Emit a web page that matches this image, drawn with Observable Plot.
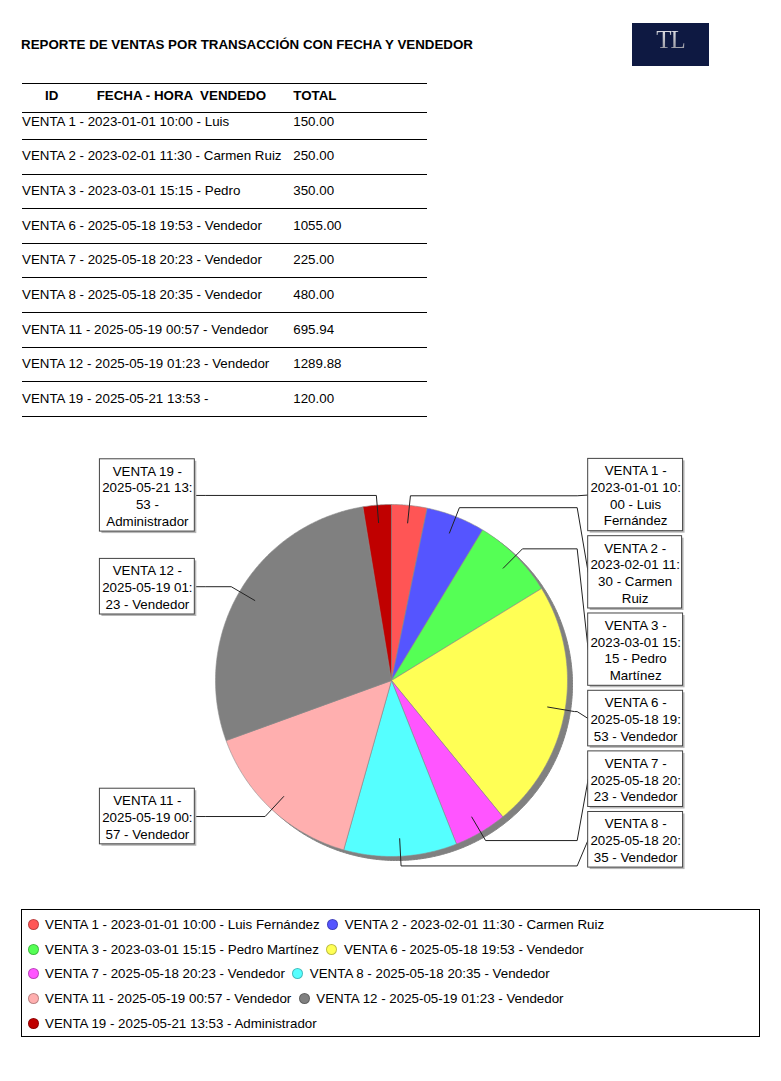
<!DOCTYPE html>
<html><head><meta charset="utf-8">
<script src="https://cdn.jsdelivr.net/npm/d3@7"></script>
<script src="https://cdn.jsdelivr.net/npm/@observablehq/plot@0.6"></script>
<style>
body{margin:0;background:#fff;font-family:"Liberation Sans",Arial,sans-serif;color:#000}
#page{position:relative;width:781px;height:1081px;overflow:hidden;background:#fff}
.abs{position:absolute}
#title{left:21px;top:37px;font-weight:bold;font-size:13.33px;line-height:16px;white-space:nowrap}
#logo{left:632px;top:23px;width:77px;height:43px;background:#0e1942;overflow:hidden}
#logo span{position:absolute;left:0;width:77px;text-align:center;top:4px;font-family:"Liberation Serif","DejaVu Serif",serif;font-size:25px;line-height:25px;letter-spacing:-1px;background:linear-gradient(#e8e8ee,#8f9099);-webkit-background-clip:text;background-clip:text;color:transparent}
.hline{position:absolute;left:22px;width:405px;height:0;border-top:1px solid #000}
.cell{position:absolute;font-size:13.33px;line-height:16px;white-space:pre}
.head{font-weight:bold}
#legend{left:21px;top:909px;width:739px;height:128px;border:1px solid #000;box-sizing:border-box;display:flex;flex-wrap:wrap;align-content:flex-start;padding:2px 0 0 5.5px;font-size:13.33px}
.item{display:flex;align-items:center;height:24.75px;margin-right:7.5px;white-space:nowrap}
.dot{width:11px;height:11px;border-radius:50%;margin-right:6.5px;box-sizing:border-box;border:0.5px solid rgba(0,0,0,0.25)}
#chart{left:0;top:430px}
</style></head>
<body><div id="page"></div>
<script>
// ---------- data ----------
const titulo = "REPORTE DE VENTAS POR TRANSACCIÓN CON FECHA Y VENDEDOR";
const logoTexto = "TL";
const encabezados = ["ID", "FECHA - HORA  VENDEDO", "TOTAL"];
const ids = ["VENTA 1","VENTA 2","VENTA 3","VENTA 6","VENTA 7","VENTA 8","VENTA 11","VENTA 12","VENTA 19"];
const fechas = ["2023-01-01 10:00","2023-02-01 11:30","2023-03-01 15:15","2025-05-18 19:53","2025-05-18 20:23","2025-05-18 20:35","2025-05-19 00:57","2025-05-19 01:23","2025-05-21 13:53"];
const vendedores = ["Luis Fernández","Carmen Ruiz","Pedro Martínez","Vendedor","Vendedor","Vendedor","Vendedor","Vendedor","Administrador"];
const totales = [150.00, 250.00, 350.00, 1055.00, 225.00, 480.00, 695.94, 1289.88, 120.00];
const colores = ["#ff5555","#5555ff","#55ff55","#ffff55","#ff55ff","#55ffff","#ffafaf","#808080","#c00000"];

// ---------- page ----------
const page = document.getElementById("page");
function el(tag, cls, css, text){const e=document.createElement(tag); if(cls) e.className=cls; if(css) Object.assign(e.style, css); if(text!=null) e.textContent=text; page.appendChild(e); return e;}
const t = el("div","abs",null,titulo); t.id="title";
const lg = el("div","abs"); lg.id="logo"; const ls=document.createElement("span"); ls.textContent=logoTexto; lg.appendChild(ls);

const etiquetas = ids.map((id,i)=>`${id} - ${fechas[i]} - ${vendedores[i]}`);

const FS = 13.33;
const ctx = document.createElement("canvas").getContext("2d");
ctx.font = `${FS}px "Liberation Sans", Arial, sans-serif`;
const mw = s => ctx.measureText(s.replace(/\u00a0/g," ")).width;

// first line of a cell that wraps at word boundaries (the rest is clipped in the report)
function firstLine(text, maxW){
  const words=text.split(" "); let line=words[0];
  for(let k=1;k<words.length;k++){const cand=line+" "+words[k]; if(mw(cand)>maxW) break; line=cand;}
  return line;
}

// table
const colX = [45, 96.7, 293.3];
el("div","hline",{top:"82.5px"});
el("div","hline",{top:"111.5px"});
encabezados.forEach((h,j)=>el("div","cell head",{left:colX[j]+"px",top:"88px"},h));
ids.forEach((id,i)=>{
  const cy = 121.5 + 34.7*i;
  el("div","cell",{left:"22px",top:(cy-8)+"px"},firstLine(etiquetas[i], 266));
  el("div","cell",{left:colX[2]+"px",top:(cy-8)+"px"},totales[i].toFixed(2));
  el("div","hline",{top:(139+34.6*i)+"px"});
});

// ---------- pie chart ----------
const W=781, H=470, CX=391, CY=250, R=176;
const LH = 16.7, PADH = 4.5, PADV = 5.5, GAP = 5, MAXW = 94;

function wrap(text){
  const tokens = text.match(/[^ ]+ */g);
  const breaks=[]; let pos=0; for(const tk of tokens){pos+=tk.length; breaks.push(pos);}
  const len=text.length, lines=[]; let start=0;
  while(start<len){
    let current=start, first=true, end=len;
    for(const b of breaks){
      if(b<=start) continue;
      if(mw(text.slice(start,b))>MAXW){
        if(first){ let e=b; while(e>start+1 && mw(text.slice(start,e))>MAXW) e--; end=e; }
        else end=current;
        break;
      }
      if(b===len){end=len; break;}
      first=false; current=b;
    }
    lines.push(text.slice(start,end).replace(/\u00a0/g," ").trim());
    start=end;
  }
  return lines;
}

const arcs = d3.pie().sort(null).value(d=>d)(totales);
const slicePts = [];
arcs.forEach((p,i)=>{
  const n = Math.max(2, Math.ceil((p.endAngle-p.startAngle)/(Math.PI/360)));
  slicePts.push({id:ids[i], x:0, y:0});
  for(let k=0;k<=n;k++){const a=p.startAngle+(p.endAngle-p.startAngle)*k/n; slicePts.push({id:ids[i], x:Math.sin(a), y:Math.cos(a)});}
  slicePts.push({id:ids[i], x:0, y:0});
});

// labels (pixel offsets from centre, y downward)
const labels = arcs.map((p,i)=>{
  const mid=(p.startAngle+p.endAngle)/2, s=Math.sin(mid), c=Math.cos(mid);
  const lines = wrap(`${ids[i]} - ${fechas[i].replace(" ","\u00a0")} - ${vendedores[i]}`);
  return {id:ids[i], lines, w:d3.max(lines,mw)+PADH, h:lines.length*LH+PADV, side:s>=0?1:-1,
    ax:0.9*R*s, ay:-0.9*R*c, lx:1.055*R*s, ly:-1.055*R*c};
});
const BOTTOM = 1.063*R;
for(const side of [1,-1]){
  const L = labels.filter(d=>d.side===side).sort((a,b)=>a.ly-b.ly);
  let prev=-Infinity;
  L.forEach(d=>{d.top=Math.max(d.ly-d.h/2, prev+GAP); prev=d.top+d.h;});
  let next=Infinity;
  for(let k=L.length-1;k>=0;k--){const d=L[k]; let bot=Math.min(d.top+d.h, BOTTOM, next-GAP); d.top=bot-d.h; next=d.top;}
}
const STEM = 1.055*R, BOXGAP = 11;
const boxes=[], leaders=[];
labels.forEach(d=>{
  const x1 = d.side>0 ? STEM+BOXGAP : -(STEM+BOXGAP)-d.w, x2 = x1+d.w;
  const cy = d.top+d.h/2;
  boxes.push({id:d.id, x1:x1/R, x2:x2/R, y1:-d.top/R, y2:-(d.top+d.h)/R, cx:(x1+x2)/2/R, cy:-cy/R, text:d.lines.join("\n")});
  const pts=[[d.ax,d.ay],[d.lx,d.ly],[d.side*STEM,d.ly],[d.side>0?x1:x2,cy]];
  pts.forEach(([px,py])=>leaders.push({id:d.id, x:px/R, y:-py/R}));
});

const chart = Plot.plot({
  width:W, height:H, margin:0,
  x:{domain:[-CX/R,(W-CX)/R], range:[0,W], axis:null},
  y:{domain:[-(H-CY)/R, CY/R], range:[H,0], axis:null},
  color:{domain:ids, range:colores},
  style:{fontFamily:'"Liberation Sans", Arial, sans-serif', fontSize:FS+"px", background:"transparent", overflow:"visible"},
  marks:[
    Plot.line(slicePts,{x:"x",y:"y",z:"id",fill:"#808080",stroke:"#808080",strokeWidth:1,dx:5,dy:4}),
    Plot.line(slicePts,{x:"x",y:"y",z:"id",fill:"id",stroke:"#8c8c8c",strokeWidth:0.6}),
    Plot.line(leaders,{x:"x",y:"y",z:"id",stroke:"#222",strokeWidth:1}),
    Plot.rect(boxes,{x1:"x1",x2:"x2",y1:"y1",y2:"y2",fill:"#b8b8b8",dx:2,dy:2}),
    Plot.rect(boxes,{x1:"x1",x2:"x2",y1:"y1",y2:"y2",fill:"white",stroke:"#444",strokeWidth:1}),
    Plot.text(boxes,{x:"cx",y:"cy",text:"text",fill:"black",fontSize:FS,lineHeight:LH/FS,lineAnchor:"middle",textAnchor:"middle"})
  ]
});
chart.id="chart"; chart.classList.add("abs"); chart.style.position="absolute";
page.appendChild(chart);

// legend
const leg = el("div","abs"); leg.id="legend";
ids.forEach((id,i)=>{
  const it=document.createElement("div"); it.className="item";
  const d=document.createElement("span"); d.className="dot"; d.style.background=colores[i];
  const s=document.createElement("span"); s.textContent=etiquetas[i];
  it.appendChild(d); it.appendChild(s); leg.appendChild(it);
});
</script>
</body></html>
